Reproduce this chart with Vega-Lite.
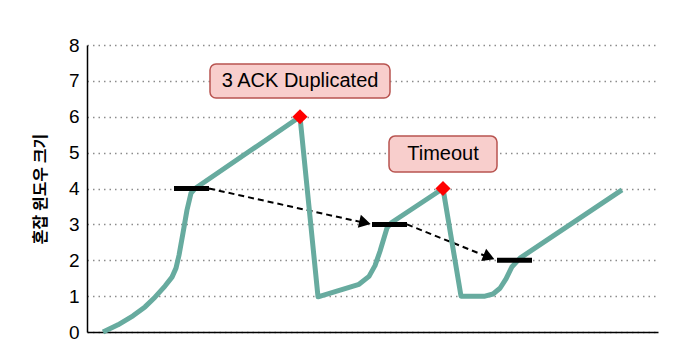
{
  "$schema": "https://vega.github.io/schema/vega-lite/v6.json",
  "width": 571,
  "height": 287,
  "autosize": "none",
  "padding": {"left": 87, "top": 45, "right": 24, "bottom": 22},
  "background": "white",
  "config": {
    "view": {"stroke": null},
    "font": "Liberation Sans"
  },
  "datasets": {
    "cwnd": [
      {"i": 1, "x": 16, "y": 0},
      {"i": 2, "x": 31, "y": 0.2},
      {"i": 3, "x": 46, "y": 0.45},
      {"i": 4, "x": 58, "y": 0.7},
      {"i": 5, "x": 68, "y": 0.97},
      {"i": 6, "x": 78, "y": 1.28},
      {"i": 7, "x": 85, "y": 1.53},
      {"i": 8, "x": 89, "y": 1.78},
      {"i": 9, "x": 92, "y": 2.14},
      {"i": 10, "x": 96, "y": 2.76},
      {"i": 11, "x": 100, "y": 3.4},
      {"i": 12, "x": 104, "y": 3.87},
      {"i": 13, "x": 108, "y": 4.0},
      {"i": 14, "x": 213, "y": 6.0},
      {"i": 15, "x": 231, "y": 0.98},
      {"i": 16, "x": 272, "y": 1.33},
      {"i": 17, "x": 282, "y": 1.55},
      {"i": 18, "x": 288, "y": 1.85},
      {"i": 19, "x": 293, "y": 2.25},
      {"i": 20, "x": 300, "y": 2.9},
      {"i": 21, "x": 305, "y": 3.06},
      {"i": 22, "x": 356, "y": 4.0},
      {"i": 23, "x": 374, "y": 1.0},
      {"i": 24, "x": 398, "y": 1.0},
      {"i": 25, "x": 406, "y": 1.06},
      {"i": 26, "x": 413, "y": 1.22},
      {"i": 27, "x": 419, "y": 1.48},
      {"i": 28, "x": 425, "y": 1.82},
      {"i": 29, "x": 433, "y": 2.06},
      {"i": 30, "x": 535, "y": 3.96}
    ],
    "thresh": [
      {"x": 87, "x2": 122, "y": 4},
      {"x": 285, "x2": 320, "y": 3},
      {"x": 410, "x2": 445, "y": 2}
    ],
    "arrows": [
      {"x": 122, "y": 4, "x2": 278, "y2": 3.04},
      {"x": 320, "y": 3, "x2": 402, "y2": 2.08}
    ],
    "loss": [
      {"x": 213, "y": 6},
      {"x": 356, "y": 4}
    ],
    "boxes": [
      {"x": 123, "x2": 303, "y": 6.52, "y2": 7.47},
      {"x": 302, "x2": 410, "y": 4.46, "y2": 5.46}
    ],
    "labels": [
      {"label": "3 ACK Duplicated", "x": 213, "y": 6.99},
      {"label": "Timeout", "x": 356, "y": 4.95}
    ]
  },
  "encoding": {
    "x": {"field": "x", "type": "quantitative",
      "scale": {"domain": [0, 571], "nice": false, "zero": false},
      "axis": {"title": null, "labels": false, "ticks": false, "grid": false, "domainColor": "black", "domainWidth": 1.5}},
    "y": {"field": "y", "type": "quantitative",
      "scale": {"domain": [0, 8], "nice": false},
      "axis": {"title": "혼잡 윈도우 크기", "values": [0, 1, 2, 3, 4, 5, 6, 7, 8],
        "titleFont": "Noto Sans CJK KR", "titleFontSize": 16, "titleFontWeight": "bold", "titleColor": "black", "titlePadding": 20,
        "labelOverlap": false, "labelFontSize": 19, "labelColor": "black", "labelPadding": 8, "ticks": false,
        "domainColor": "black", "domainWidth": 1.5,
        "grid": true, "gridDash": [1.5, 4], "gridColor": "#8c8c8c", "gridWidth": 1.5}}
  },
  "layer": [
    {
      "data": {"name": "boxes"},
      "mark": {"type": "rect", "fill": "#f8cecc", "stroke": "#b85450", "strokeWidth": 1.5, "cornerRadius": 6},
      "encoding": {
        "x2": {"field": "x2"},
        "y2": {"field": "y2"}
      }
    },
    {
      "data": {"name": "labels"},
      "mark": {"type": "text", "fontSize": 20, "color": "black", "align": "center", "baseline": "middle"},
      "encoding": {
        "text": {"field": "label"}
      }
    },
    {
      "data": {"name": "arrows"},
      "mark": {"type": "rule", "color": "black", "strokeWidth": 2, "strokeDash": [6, 4]},
      "encoding": {
        "x2": {"field": "x2"},
        "y2": {"field": "y2"}
      }
    },
    {
      "data": {"name": "cwnd"},
      "mark": {"type": "line", "color": "#67ab9f", "strokeWidth": 5, "strokeJoin": "round"},
      "encoding": {
        "order": {"field": "i", "type": "quantitative"}
      }
    },
    {
      "data": {"name": "thresh"},
      "mark": {"type": "rule", "color": "black", "strokeWidth": 5},
      "encoding": {
        "x2": {"field": "x2"}
      }
    },
    {
      "data": {"values": [{"x": 278, "y": 3.05}]},
      "mark": {"type": "point", "shape": "triangle-right", "filled": true, "color": "black", "size": 180, "angle": 13, "opacity": 1},
      "encoding": {}
    },
    {
      "data": {"values": [{"x": 402, "y": 2.09}]},
      "mark": {"type": "point", "shape": "triangle-right", "filled": true, "color": "black", "size": 180, "angle": 22, "opacity": 1},
      "encoding": {}
    },
    {
      "data": {"name": "loss"},
      "mark": {"type": "point", "shape": "diamond", "filled": true, "color": "#ff0000", "size": 230, "opacity": 1},
      "encoding": {}
    }
  ]
}
